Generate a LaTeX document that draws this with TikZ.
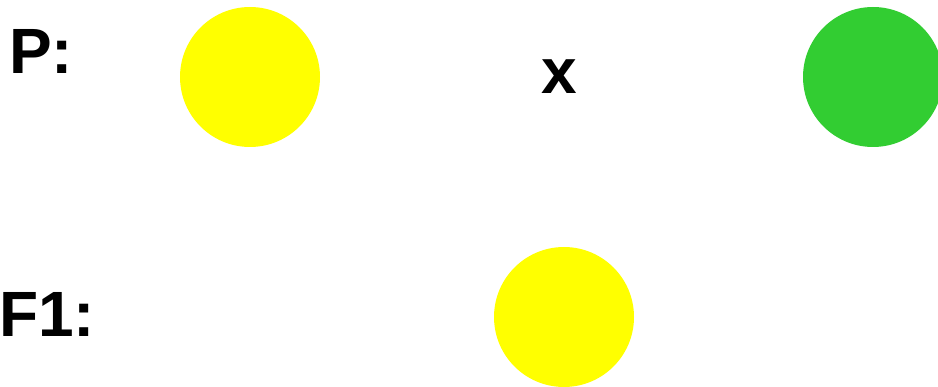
\documentclass[tikz,border=0pt]{standalone}
\usepackage{fontspec}
\setmainfont{Liberation Sans}
\usepackage{tikz}

\definecolor{pYellow}{RGB}{255,255,0}
\definecolor{pGreen}{RGB}{50,205,50}

\begin{document}
\begin{tikzpicture}[
	x=1pt, y=-1pt,
	lbl/.style={inner sep=0pt, anchor=base west, font=\fontsize{64}{64}\selectfont\bfseries},
	pea/.style={circle, minimum size=140pt, inner sep=0pt}
	]
	\useasboundingbox (0,0) rectangle (938,387);
	\clip (0,0) rectangle (938,387);

	\node[lbl] (lp) at (9,74) {P:};
	\node[lbl] (lf) at (-1,337) {F1:};
	\node[lbl, anchor=base] (cross) at (559,94) {x};

	\node[pea, fill=pYellow] (p1) at (250,77) {};
	\node[pea, fill=pGreen] (p2) at (873,77) {};
	\node[pea, fill=pYellow] (f1) at (564,317) {};
\end{tikzpicture}
\end{document}
